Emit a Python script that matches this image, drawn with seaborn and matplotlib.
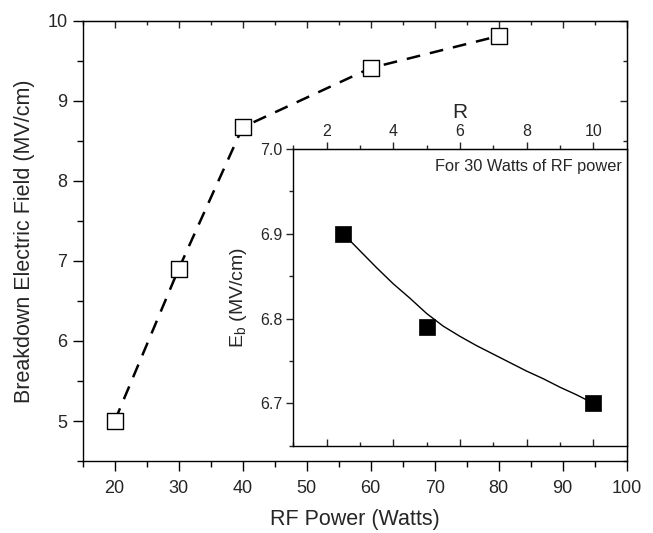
import numpy as np
import matplotlib
matplotlib.use("Agg")
import matplotlib.pyplot as plt
from matplotlib.ticker import MultipleLocator, FixedLocator
import seaborn as sns

# main plot: breakdown field vs RF power
rf_power = [20, 30, 40, 60, 80]
breakdown_field = [5.0, 6.9, 8.67, 9.41, 9.81]

# inset: Eb vs R at 30 W
r_ratio = [2.5, 5.0, 10.0]
eb_inset = [6.90, 6.79, 6.70]

# fitted curve in the inset
r_curve = [2.5, 3.0, 3.5, 4.0, 4.5, 5.0, 5.5, 6.0, 6.5, 7.0, 7.5, 8.0, 8.5, 9.0, 9.5, 10.0]
eb_curve = [6.900, 6.880, 6.860, 6.841, 6.824, 6.806, 6.791, 6.779, 6.768,
            6.758, 6.748, 6.738, 6.729, 6.719, 6.710, 6.700]

sns.set_style("ticks")
plt.rcParams["font.family"] = ["Liberation Sans", "DejaVu Sans"]
plt.rcParams["mathtext.fontset"] = "custom"
plt.rcParams["mathtext.rm"] = "Liberation Sans"
plt.rcParams["mathtext.it"] = "Liberation Sans:italic"

fig = plt.figure(figsize=(6.53, 5.33), dpi=100)
ax = fig.add_axes([0.1266, 0.135, 0.833, 0.826])

sns.lineplot(x=rf_power, y=breakdown_field, ax=ax, color="black", lw=1.8,
             dashes=False, linestyle=(0, (5.5, 4)), zorder=2)
sns.scatterplot(x=rf_power, y=breakdown_field, ax=ax, marker="s", s=135,
                facecolor="white", edgecolor="black", linewidth=1.0, zorder=3)

ax.set_xlim(15, 100)
ax.set_ylim(4.5, 10)
ax.xaxis.set_major_locator(FixedLocator([20, 30, 40, 50, 60, 70, 80, 90, 100]))
ax.xaxis.set_minor_locator(MultipleLocator(5))
ax.yaxis.set_major_locator(MultipleLocator(1))
ax.yaxis.set_minor_locator(MultipleLocator(0.5))
ax.xaxis.set_major_formatter(plt.FormatStrFormatter("%d"))
ax.yaxis.set_major_formatter(plt.FormatStrFormatter("%d"))
ax.tick_params(which="both", direction="out", color="black", width=1.0, labelsize=13)
ax.tick_params(which="major", length=7)
ax.tick_params(which="minor", length=4)
ax.tick_params(axis="x", which="major", pad=7)
ax.tick_params(axis="y", which="major", pad=4)
for sp in ax.spines.values():
    sp.set_visible(True)
    sp.set_linewidth(1.0)
    sp.set_color("black")

ax.set_xlabel("RF Power (Watts)", fontsize=15.5, labelpad=8)
ax.set_ylabel("Breakdown Electric Field (MV/cm)", fontsize=15.5, labelpad=9)

# inward ticks on top and right of main axes
top = ax.secondary_xaxis("top")
top.xaxis.set_major_locator(FixedLocator([20, 30, 40, 50, 60, 70, 80, 90, 100]))
top.xaxis.set_minor_locator(MultipleLocator(5))
top.tick_params(which="both", direction="in", labeltop=False, width=1.0)
top.tick_params(which="major", length=5)
top.tick_params(which="minor", length=3)
right = ax.secondary_yaxis("right")
right.yaxis.set_major_locator(MultipleLocator(1))
right.yaxis.set_minor_locator(MultipleLocator(0.5))
right.tick_params(which="both", direction="in", labelright=False, width=1.0)
right.tick_params(which="major", length=5)
right.tick_params(which="minor", length=3)

# inset
ax2 = fig.add_axes([0.449, 0.1638, 0.5106, 0.5567])
sns.lineplot(x=r_curve, y=eb_curve, ax=ax2, color="black", lw=1.0, sort=False, zorder=2)
sns.scatterplot(x=r_ratio, y=eb_inset, ax=ax2, marker="s", s=120,
                color="black", edgecolor="black", linewidth=0.5, zorder=3)
ax2.set_xlim(1, 11)
ax2.set_ylim(6.65, 7.0)
ax2.xaxis.set_major_locator(FixedLocator([2, 4, 6, 8, 10]))
ax2.xaxis.set_minor_locator(FixedLocator([1, 3, 5, 7, 9]))
ax2.yaxis.set_major_locator(FixedLocator([6.7, 6.8, 6.9, 7.0]))
ax2.yaxis.set_minor_locator(FixedLocator([6.65, 6.75, 6.85, 6.95]))
ax2.yaxis.set_major_formatter(plt.FormatStrFormatter("%.1f"))
ax2.tick_params(axis="x", which="both", direction="in", labelbottom=False, width=1.0)
ax2.tick_params(axis="x", which="major", length=5)
ax2.tick_params(axis="x", which="minor", length=3)
ax2.tick_params(axis="y", which="both", direction="out", width=1.0, labelsize=11.5, pad=2.5)
ax2.tick_params(axis="y", which="major", length=5)
ax2.tick_params(axis="y", which="minor", length=3)
ax2.tick_params(axis="y", which="both", right=False)
for sp in ax2.spines.values():
    sp.set_visible(True)
    sp.set_linewidth(1.0)
    sp.set_color("black")
ax2.set_ylabel(r"E$_\mathrm{b}$ (MV/cm)", fontsize=14, labelpad=8)

top2 = ax2.secondary_xaxis("top")
top2.xaxis.set_major_locator(FixedLocator([2, 4, 6, 8, 10]))
top2.xaxis.set_minor_locator(FixedLocator([1, 3, 5, 7, 9]))
top2.xaxis.set_major_formatter(plt.FormatStrFormatter("%d"))
top2.tick_params(which="both", direction="out", width=1.0, labelsize=11.5, pad=2.5)
top2.tick_params(which="major", length=5)
top2.tick_params(which="minor", length=3)
top2.set_xlabel("R", fontsize=15, labelpad=4)

ax2.text(0.985, 0.965, "For 30 Watts of RF power", transform=ax2.transAxes,
         ha="right", va="top", fontsize=11.8)

fig.savefig("out.png", dpi=100)
